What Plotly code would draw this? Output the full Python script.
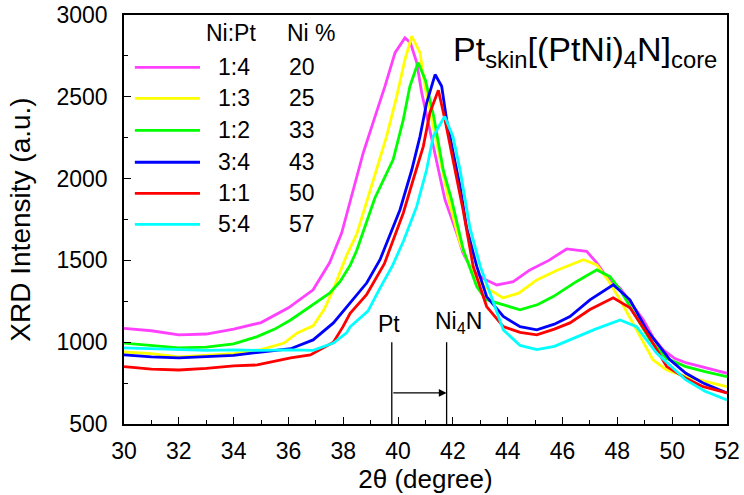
import plotly.graph_objects as go

# ---------------- data ----------------
ratios = ["1:4", "1:3", "1:2", "3:4", "1:1", "5:4"]
ni_percent = ["20", "25", "33", "43", "50", "57"]
colors = ["#FF40FF", "#FFFF00", "#00FF00", "#0000FF", "#FF0000", "#00FFFF"]

x_14 = [30.0, 31.0, 32.0, 33.0, 34.0, 35.0, 36.0, 36.9, 37.5, 37.94, 38.25, 38.73, 39.2, 39.52,
        39.89, 40.25, 40.45, 40.68, 40.86, 41.16, 41.4, 41.71, 42.14, 42.37, 42.7, 43.1, 43.6,
        44.2, 44.81, 45.5, 46.15, 46.5, 46.88, 47.25, 47.6, 48.1, 48.5, 48.95, 49.3, 49.67,
        50.1, 50.53, 51.2, 52.0]
y_14 = [1085, 1070, 1045, 1050, 1080, 1120, 1210, 1320, 1485, 1667, 1860, 2158, 2400, 2564,
        2770, 2860, 2830, 2709, 2526, 2299, 2116, 1871, 1667, 1545, 1440, 1390, 1350,
        1370, 1442, 1500, 1570, 1565, 1555, 1485, 1400, 1330, 1240, 1136, 1030, 953,
        900, 873, 845, 810]

x_13 = [30.0, 31.0, 32.0, 33.0, 34.0, 35.0, 35.84, 36.32, 36.9, 37.3, 37.63, 38.12, 38.49,
        38.73, 39.22, 39.58, 39.95, 40.25, 40.5, 40.8, 40.98, 41.28, 41.53, 41.83, 42.26,
        42.62, 43.0, 43.35, 43.83, 44.4, 45.06, 45.8, 46.76, 47.25, 47.7, 48.1, 48.7, 49.3,
        49.8, 50.5, 51.2, 52.0]
y_13 = [940, 930, 910, 920, 930, 955, 995, 1057, 1100, 1200, 1320, 1530, 1660,
        1790, 2054, 2258, 2503, 2728, 2870, 2770, 2564, 2320, 2116, 1880, 1606,
        1463, 1360, 1320, 1271, 1300, 1381, 1440, 1504, 1473, 1370, 1259, 1075, 892,
        830, 790, 760, 728]

x_12 = [30.0, 31.0, 32.0, 33.0, 34.0, 34.86, 35.5, 36.08, 36.8, 37.5, 37.88, 38.25, 38.49,
        38.73, 39.15, 39.82, 40.19, 40.43, 40.73, 41.0, 41.3, 41.65, 41.95, 42.38, 42.87,
        43.2, 43.84, 44.45, 45.1, 45.66, 46.5, 47.25, 47.73, 48.1, 48.46, 49.19, 49.8,
        50.5, 51.2, 52.0]
y_12 = [995, 980, 965, 970, 990, 1034, 1080, 1136, 1218, 1300, 1370, 1470, 1560,
        1680, 1880, 2116, 2360, 2564, 2710, 2600, 2380, 2050, 1871, 1565, 1340,
        1260, 1230, 1198, 1230, 1279, 1370, 1442, 1401, 1320, 1218, 1014, 900,
        851, 820, 790]

x_34 = [30.0, 31.0, 32.0, 33.0, 34.0, 35.0, 36.08, 36.9, 37.64, 38.25, 38.86, 39.34, 39.7,
        40.07, 40.5, 40.8, 41.04, 41.35, 41.59, 41.77, 42.01, 42.26, 42.5, 42.87, 43.23,
        43.84, 44.45, 45.06, 45.7, 46.27, 47.0, 47.85, 48.46, 49.07, 49.92, 50.5, 51.13, 52.0]
y_34 = [922, 910, 904, 910, 920, 940, 960, 1014, 1118, 1240, 1363, 1504, 1650,
        1810, 2054, 2258, 2462, 2636, 2564, 2360, 2158, 1952, 1700, 1463, 1279,
        1157, 1095, 1075, 1110, 1157, 1259, 1351, 1259, 1075, 892, 810, 751, 690]

x_11 = [30.0, 31.0, 32.0, 33.0, 34.0, 34.86, 36.08, 36.8, 37.64, 37.99, 38.25, 38.85, 39.5,
        40.19, 40.55, 40.92, 41.16, 41.47, 41.71, 41.95, 42.2, 42.38, 42.74, 43.23, 43.84,
        44.45, 45.06, 45.7, 46.27, 47.0, 47.85, 48.46, 49.07, 49.8, 50.5, 51.13, 52.0]
y_11 = [851, 835, 830, 840, 855, 861, 904, 922, 1000, 1095, 1177, 1290, 1480,
        1790, 1993, 2197, 2403, 2540, 2360, 2158, 1952, 1800, 1463, 1218, 1095,
        1060, 1045, 1080, 1118, 1200, 1271, 1210, 1057, 851, 780, 728, 690]

x_54 = [30.0, 31.0, 32.0, 33.0, 34.0, 35.0, 36.08, 36.9, 37.64, 38.12, 38.25, 38.9, 39.34,
        39.8, 40.2, 40.55, 40.68, 41.04, 41.28, 41.7, 42.0, 42.26, 42.5, 42.62, 43.0, 43.35,
        43.84, 44.45, 45.06, 45.7, 46.27, 47.2, 48.1, 48.7, 49.43, 50.5, 51.2, 52.0]
y_54 = [965, 960, 953, 950, 953, 950, 953, 950, 995, 1057, 1094, 1190, 1330,
        1470, 1620, 1769, 1830, 2054, 2258, 2380, 2258, 2054, 1830, 1700, 1463, 1300,
        1075, 980, 955, 975, 1014, 1080, 1136, 1095, 934, 769, 700, 647]

series_x = [x_14, x_13, x_12, x_34, x_11, x_54]
series_y = [y_14, y_13, y_12, y_34, y_11, y_54]

x_ticks = [30, 32, 34, 36, 38, 40, 42, 44, 46, 48, 50, 52]
y_ticks = [500, 1000, 1500, 2000, 2500, 3000]

PT_POS = 39.77
NI4N_POS = 41.77
MARKER_TOP = 1000
ARROW_Y = 690

FONT = "Arial, Liberation Sans, sans-serif"

fig = go.Figure()
for xs, ys, c, r in zip(series_x, series_y, colors, ratios):
    fig.add_trace(go.Scatter(x=xs, y=ys, mode="lines", name=r,
                             line=dict(color=c, width=2.8), showlegend=False))

# ---------------- manual legend ----------------
row_y = [0.872, 0.796, 0.718, 0.64, 0.564, 0.488]
fig.add_annotation(x=0.177, y=0.955, xref="paper", yref="paper", text="Ni:Pt",
                   showarrow=False, xanchor="center", yanchor="middle",
                   font=dict(family=FONT, size=23, color="black"))
fig.add_annotation(x=0.267, y=0.955, xref="paper", yref="paper", text="Ni %",
                   showarrow=False, xanchor="left", yanchor="middle",
                   font=dict(family=FONT, size=23, color="black"))
for ry, c, r, p in zip(row_y, colors, ratios, ni_percent):
    fig.add_shape(type="line", xref="paper", yref="paper", x0=0.018, x1=0.126,
                  y0=ry, y1=ry, line=dict(color=c, width=2.8))
    fig.add_annotation(x=0.182, y=ry, xref="paper", yref="paper", text=r,
                       showarrow=False, xanchor="center", yanchor="middle",
                       font=dict(family=FONT, size=23, color="black"))
    fig.add_annotation(x=0.270, y=ry, xref="paper", yref="paper", text=p,
                       showarrow=False, xanchor="left", yanchor="middle",
                       font=dict(family=FONT, size=23, color="black"))

# ---------------- title inside plot ----------------
fig.add_annotation(x=0.986, y=0.968, xref="paper", yref="paper",
                   text="Pt<sub>skin</sub>[(PtNi)<sub>4</sub>N]<sub>core</sub>",
                   showarrow=False, xanchor="right", yanchor="top",
                   font=dict(family=FONT, size=34, color="black"))

# ---------------- Pt / Ni4N markers ----------------
for pos in (PT_POS, NI4N_POS):
    fig.add_shape(type="line", xref="x", yref="y", x0=pos, x1=pos, y0=500, y1=MARKER_TOP,
                  line=dict(color="black", width=1.3))
fig.add_annotation(x=NI4N_POS, y=ARROW_Y, ax=PT_POS, ay=ARROW_Y, xref="x", yref="y",
                   axref="x", ayref="y", text="", showarrow=True, arrowhead=2,
                   arrowsize=1.3, arrowwidth=1.2, arrowcolor="black")
fig.add_annotation(x=PT_POS - 0.1, y=MARKER_TOP + 20, xref="x", yref="y", text="Pt",
                   showarrow=False, xanchor="center", yanchor="bottom",
                   font=dict(family=FONT, size=23, color="black"))
fig.add_annotation(x=NI4N_POS + 0.45, y=MARKER_TOP + 20, xref="x", yref="y",
                   text="Ni<sub>4</sub>N", showarrow=False, xanchor="center",
                   yanchor="bottom", font=dict(family=FONT, size=23, color="black"))

axis_common = dict(showline=True, linecolor="black", linewidth=1.6, mirror=True,
                   ticks="inside", ticklen=7, tickwidth=1.3, tickcolor="black",
                   showgrid=False, zeroline=False, automargin=False,
                   tickfont=dict(family=FONT, size=23, color="black"))

fig.update_xaxes(range=[30, 52], tickvals=x_ticks, ticktext=[str(v) for v in x_ticks],
                 minor=dict(ticks="inside", ticklen=4, dtick=1, tickcolor="black", tickwidth=1.2),
                 title=dict(text="2θ (degree)", standoff=6,
                            font=dict(family=FONT, size=26, color="black")),
                 ticklabelstandoff=6, **axis_common)
fig.update_yaxes(range=[500, 3000], tickvals=y_ticks, ticktext=[str(v) for v in y_ticks],
                 minor=dict(ticks="inside", ticklen=4, dtick=250, tickcolor="black", tickwidth=1.2),
                 title=dict(text="XRD Intensity (a.u.)", standoff=18,
                            font=dict(family=FONT, size=28, color="black")),
                 ticklabelstandoff=10, **axis_common)

fig.update_layout(width=744, height=495, margin=dict(l=124, r=17, t=15, b=71),
                  plot_bgcolor="white", paper_bgcolor="white", showlegend=False)

fig.write_html("out.html")
